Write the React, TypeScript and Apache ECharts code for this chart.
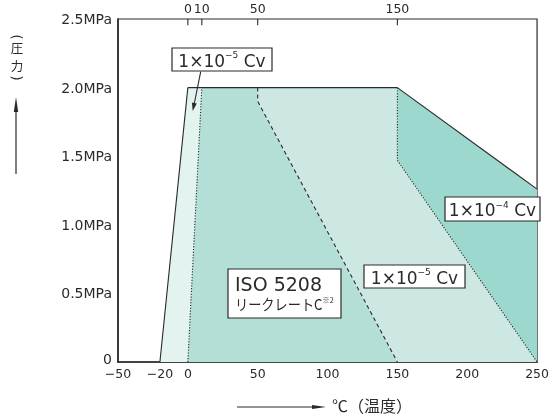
import React, { useEffect, useRef } from 'react';
import * as echarts from 'echarts';

// ---- data ----
const bottomTicks = [-50, -20, 0, 50, 100, 150, 200, 250];
const topTicks = [0, 10, 50, 150];
const pressureMin = 0;
const pressureMax = 2.5;
const pressureStep = 0.5;

const outerLeftLine = [[-20, 0], [0, 2.0]];
const topLine = [[0, 2.0], [150, 2.0]];
const outerRightLine = [[150, 2.0], [250, 1.26]];
const lowTempLine = [[0, 0], [10, 2.0]];
const midLine = [[50, 2.0], [50, 1.9], [150, 0]];
const highLine = [[150, 2.0], [150, 1.47], [250, 0]];

const regionPale = [[-20, 0], [0, 2.0], [10, 2.0], [0, 0]];
const regionMid = [[0, 0], [10, 2.0], [50, 2.0], [50, 1.9], [150, 0]];
const regionLight = [[150, 0], [50, 1.9], [50, 2.0], [150, 2.0], [150, 1.47], [250, 0]];
const regionDark = [[250, 0], [150, 1.47], [150, 2.0], [250, 1.26]];
const regions = [regionPale, regionMid, regionLight, regionDark];

// ---- styles ----
const regionColors = ['#e3f3ef', '#b3dfd7', '#cde8e3', '#9dd8ce'];
const ink = '#2a2a2a';
const latin = '"DejaVu Sans", "Noto Sans CJK JP", sans-serif';
const jp = '"Noto Sans CJK JP", "DejaVu Sans", sans-serif';
const Z = 100;
const tickLen = 0.045;

const fmtX = (v: number) => (v < 0 ? '\u2212' + Math.abs(v) : String(v));
const fmtY = (v: number) => (v === 0 ? '{z|0}' : v.toFixed(1) + 'MPa');

function lineSeries(data: number[][], type: any, width = 1, z = 4, color = ink) {
  return {
    type: 'line',
    data,
    symbol: 'none',
    silent: true,
    clip: false,
    z,
    lineStyle: { color, width, type },
  };
}

function cvBox(x: number, y: number, w: number, h: number, exp: string): any[] {
  return [
    { type: 'rect', z: Z, shape: { x, y, width: w, height: h }, style: { fill: '#fff', stroke: ink, lineWidth: 1.2 } },
    {
      type: 'text',
      z: Z + 1,
      x: x + w / 2,
      y: y + h / 2 + 1,
      style: {
        text: '{a|1×10}{s|' + exp + '}{a| Cv}',
        align: 'center',
        verticalAlign: 'middle',
        rich: {
          a: { fontSize: 17, fontFamily: latin, fill: ink, lineHeight: 20 },
          s: { fontSize: 9, fontFamily: latin, fill: ink, lineHeight: 10, verticalAlign: 'top' },
        },
      },
    },
  ];
}

export default function App() {
  const ref = useRef<HTMLDivElement>(null);
  useEffect(() => {
    if (!ref.current) return;
    const chart = echarts.init(ref.current, null, { renderer: 'svg' });
    const option: any = {
      animation: false,
      grid: {
        left: 118, top: 19, width: 420, height: 343,
        show: true, borderColor: ink, borderWidth: 1.2, backgroundColor: 'transparent',
      },
      xAxis: [
        {
          type: 'value', min: -50, max: 250, position: 'bottom',
          splitLine: { show: false },
          axisTick: { show: false },
          axisLine: { show: true, onZero: false, lineStyle: { color: ink, width: 1.6 } },
          axisLabel: {
            customValues: bottomTicks, formatter: fmtX, fontSize: 12.5, fontFamily: latin,
            color: ink, margin: 5, hideOverlap: false,
          },
        },
        {
          type: 'value', min: -50, max: 250, position: 'top',
          splitLine: { show: false },
          axisLine: { show: false },
          axisTick: { show: false },
          axisLabel: {
            customValues: topTicks, fontSize: 12.5, fontFamily: latin, color: ink, margin: 4, hideOverlap: false,
          },
        },
      ],
      yAxis: {
        type: 'value', min: pressureMin, max: pressureMax, interval: pressureStep,
        splitLine: { show: false },
        axisTick: { show: false },
        axisLine: { show: true, onZero: false, lineStyle: { color: ink, width: 1.6 } },
        axisLabel: {
          formatter: fmtY, fontSize: 14, fontFamily: latin, color: ink, margin: 6,
          rich: { z: { fontSize: 14, fontFamily: latin, color: ink, padding: [0, 0, 6, 0] } },
        },
      },
      series: [
        {
          type: 'custom',
          coordinateSystem: 'cartesian2d',
          silent: true,
          z: 1,
          data: regions.map((r) => r[0]),
          renderItem: (params: any, api: any) => {
            const pts = regions[params.dataIndex].map((p) => api.coord(p));
            return { type: 'polygon', shape: { points: pts }, style: { fill: regionColors[params.dataIndex] } };
          },
        },
        // top-axis tick marks (inside)
        ...topTicks.map((t) => lineSeries([[t, pressureMax], [t, pressureMax - tickLen]], 'solid', 1.1, 6)),
        lineSeries(outerLeftLine, 'solid', 1.1),
        lineSeries(topLine, 'solid', 1.1),
        lineSeries(outerRightLine, 'solid', 1.1),
        lineSeries(lowTempLine, [1.2, 1.6], 1.1),
        lineSeries(midLine, [4, 3], 1.1),
        lineSeries(highLine, [1.2, 1.6], 1.1),
      ],
      graphic: [
        // y axis title
        {
          type: 'text', z: Z, x: 17, y: 37, rotation: -Math.PI / 2,
          style: { text: '(', font: '14px ' + latin, fill: ink, align: 'center', verticalAlign: 'middle' },
        },
        {
          type: 'text', z: Z, x: 17, y: 47.5,
          style: { text: '圧', font: '12.5px ' + jp, fill: ink, align: 'center', verticalAlign: 'middle' },
        },
        {
          type: 'text', z: Z, x: 17, y: 65.5,
          style: { text: '力', font: '12.5px ' + jp, fill: ink, align: 'center', verticalAlign: 'middle' },
        },
        {
          type: 'text', z: Z, x: 17, y: 78, rotation: -Math.PI / 2,
          style: { text: ')', font: '14px ' + latin, fill: ink, align: 'center', verticalAlign: 'middle' },
        },
        { type: 'line', z: Z, shape: { x1: 16, y1: 174, x2: 16, y2: 108 }, style: { stroke: ink, lineWidth: 1.2 } },
        { type: 'polygon', z: Z, shape: { points: [[16, 97], [13.8, 112], [18.2, 112]] }, style: { fill: ink } },
        // x axis title
        { type: 'line', z: Z, shape: { x1: 237, y1: 407, x2: 316, y2: 407 }, style: { stroke: ink, lineWidth: 1.2 } },
        { type: 'polygon', z: Z, shape: { points: [[326, 407], [312, 405], [312, 409]] }, style: { fill: ink } },
        {
          type: 'text', z: Z, x: 332, y: 405,
          style: { text: '℃（温度）', font: '16px ' + jp, fill: ink, align: 'left', verticalAlign: 'middle' },
        },
        // annotations
        ...cvBox(172, 48, 100, 23, '−5'),
        { type: 'line', z: Z, shape: { x1: 200.7, y1: 71.7, x2: 194.3, y2: 103.5 }, style: { stroke: ink, lineWidth: 1.1 } },
        { type: 'polygon', z: Z, shape: { points: [[192.7, 111], [196.8, 103.4], [191.9, 102.4]] }, style: { fill: ink } },
        ...cvBox(364, 265, 101, 23, '−5'),
        ...cvBox(445, 197, 95, 24, '−4'),
        { type: 'rect', z: Z, shape: { x: 228, y: 269, width: 113, height: 49 }, style: { fill: '#fff', stroke: ink, lineWidth: 1.2 } },
        {
          type: 'text', z: Z + 1, x: 235, y: 284,
          style: { text: 'ISO 5208', font: '19px ' + latin, fill: ink, align: 'left', verticalAlign: 'middle' },
        },
        {
          type: 'text', z: Z + 1, x: 235, y: 304, scaleX: 0.88,
          style: {
            text: '{a|リークレートC}{s|※2}',
            align: 'left', verticalAlign: 'middle',
            rich: {
              a: { fontSize: 15, fontFamily: jp, fill: ink, lineHeight: 18 },
              s: { fontSize: 8, fontFamily: jp, fill: ink, lineHeight: 9, verticalAlign: 'top' },
            },
          },
        },
      ],
    };
    chart.setOption(option);
    return () => chart.dispose();
  }, []);
  return <div ref={ref} style={{ position: 'fixed', left: 0, top: 0, width: 552, height: 419 }} />;
}
